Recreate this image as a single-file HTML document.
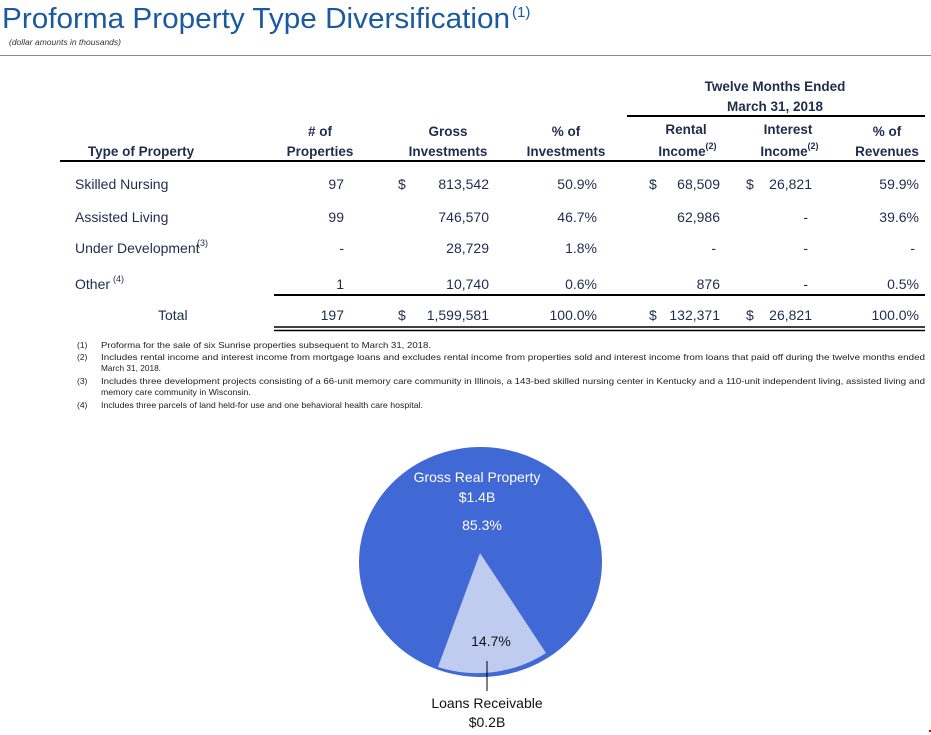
<!DOCTYPE html>
<html><head><meta charset="utf-8"><style>
html,body{margin:0;padding:0;background:#fff;}
svg{display:block;font-family:"Liberation Sans",sans-serif;}
</style></head><body>
<svg width="931" height="735" viewBox="0 0 931 735" xmlns="http://www.w3.org/2000/svg">
<text x="2" y="28" font-size="29" fill="#1a5aa0" textLength="508" lengthAdjust="spacingAndGlyphs">Proforma Property Type Diversification</text>
<text x="512" y="17" font-size="15" fill="#1a5aa0">(1)</text>
<text x="9" y="45" font-size="8.5" font-style="italic" fill="#333">(dollar amounts in thousands)</text>
<line x1="0" y1="55.5" x2="931" y2="55.5" stroke="#888" stroke-width="1"/>

<g fill="#1f2d4d" font-size="13.5" font-weight="bold" text-anchor="middle">
<text x="775" y="91">Twelve Months Ended</text>
<text x="775" y="111">March 31, 2018</text>
<text x="141" y="156">Type of Property</text>
<text x="320" y="136">#  of</text><text x="320" y="156">Properties</text>
<text x="448" y="136">Gross</text><text x="448" y="156">Investments</text>
<text x="566" y="136">% of</text><text x="566" y="156">Investments</text>
<text x="686" y="134">Rental</text><text x="682" y="156">Income</text><text x="711" y="149" font-size="9">(2)</text>
<text x="788" y="134">Interest</text><text x="784" y="156">Income</text><text x="813" y="149" font-size="9">(2)</text>
<text x="887" y="136">% of</text><text x="887" y="156">Revenues</text>
</g>
<line x1="627" y1="116" x2="925" y2="116" stroke="#000" stroke-width="2"/>
<line x1="60" y1="161" x2="925" y2="161" stroke="#000" stroke-width="2"/>

<g fill="#1f2d4d" font-size="14">
<text x="75" y="189">Skilled Nursing</text>
<text x="75" y="222">Assisted Living</text>
<text x="75" y="253">Under Development</text><text x="197" y="246" font-size="9">(3)</text>
<text x="75" y="289">Other</text><text x="113" y="282" font-size="9">(4)</text>
<text x="158" y="320">Total</text>
<g text-anchor="end">
<text x="344" y="189">97</text><text x="344" y="222">99</text><text x="344" y="253">-</text><text x="344" y="289">1</text><text x="344" y="320">197</text>
<text x="489" y="189">813,542</text><text x="489" y="222">746,570</text><text x="489" y="253">28,729</text><text x="489" y="289">10,740</text><text x="489" y="320">1,599,581</text>
<text x="597" y="189">50.9%</text><text x="597" y="222">46.7%</text><text x="597" y="253">1.8%</text><text x="597" y="289">0.6%</text><text x="597" y="320">100.0%</text>
<text x="720" y="189">68,509</text><text x="720" y="222">62,986</text><text x="716" y="253">-</text><text x="720" y="289">876</text><text x="720" y="320">132,371</text>
<text x="812" y="189">26,821</text><text x="808" y="222">-</text><text x="808" y="253">-</text><text x="808" y="289">-</text><text x="812" y="320">26,821</text>
<text x="919" y="189">59.9%</text><text x="919" y="222">39.6%</text><text x="915" y="253">-</text><text x="919" y="289">0.5%</text><text x="919" y="320">100.0%</text>
</g>
<text x="398" y="189">$</text><text x="398" y="320">$</text>
<text x="649" y="189">$</text><text x="649" y="320">$</text>
<text x="746" y="189">$</text><text x="746" y="320">$</text>
</g>
<line x1="274" y1="295" x2="925" y2="295" stroke="#000" stroke-width="2"/>
<line x1="274" y1="327" x2="925" y2="327" stroke="#000" stroke-width="1.5"/>
<line x1="274" y1="330.5" x2="925" y2="330.5" stroke="#000" stroke-width="1.5"/>

<g fill="#222" font-size="8.5">
<text x="77" y="348">(1)</text><text x="101" y="348" textLength="330" lengthAdjust="spacingAndGlyphs">Proforma for the sale of six Sunrise properties subsequent to March 31, 2018.</text>
<text x="77" y="360">(2)</text><text x="101" y="360" textLength="824" lengthAdjust="spacingAndGlyphs">Includes rental income and interest income from mortgage loans and excludes rental income from properties sold and interest income from loans that paid off during the twelve months ended</text>
<text x="101" y="371" textLength="60" lengthAdjust="spacingAndGlyphs">March 31, 2018.</text>
<text x="77" y="384">(3)</text><text x="101" y="384" textLength="824" lengthAdjust="spacingAndGlyphs">Includes three development projects consisting of a 66-unit memory care community in Illinois, a 143-bed skilled nursing center in Kentucky and a 110-unit independent living, assisted living and</text>
<text x="101" y="395" textLength="150" lengthAdjust="spacingAndGlyphs">memory care community in Wisconsin.</text>
<text x="77" y="408">(4)</text><text x="101" y="408" textLength="322" lengthAdjust="spacingAndGlyphs">Includes three parcels of land held-for use and one behavioral health care hospital.</text>
</g>

<ellipse cx="480.5" cy="562" rx="121.5" ry="115" fill="#4169d6"/>
<path d="M480,553 L438,667 A121.5,115 0 0,0 546,653 Z" fill="#c0ccef"/>
<g font-size="14" text-anchor="middle">
<text x="477" y="482" fill="#fff">Gross Real Property</text>
<text x="477" y="502" fill="#fff">$1.4B</text>
<text x="482" y="530" fill="#fff">85.3%</text>
<text x="491" y="646" fill="#111">14.7%</text>
<text x="487" y="708" fill="#111">Loans Receivable</text>
<text x="487" y="727" fill="#111">$0.2B</text>
</g>
<line x1="487" y1="661" x2="487" y2="691" stroke="#000" stroke-width="1"/>
<rect x="929" y="730" width="2" height="2" fill="#e00"/>
</svg>
</body></html>
